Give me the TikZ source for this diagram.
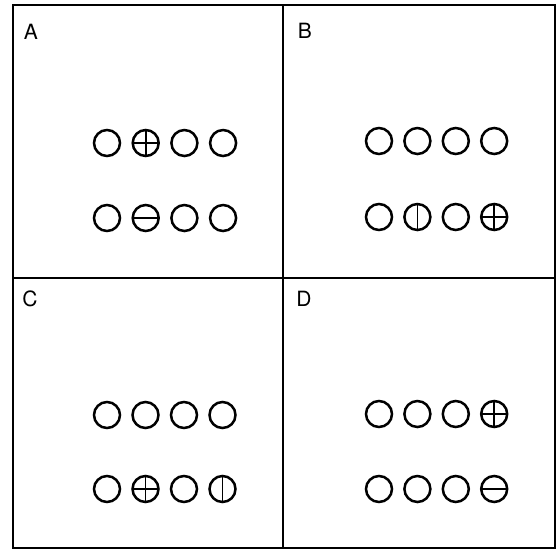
\documentclass[tikz,border=0pt]{standalone}
\usepackage{fontspec}
\setmainfont{TeX Gyre Heros}
\usepackage{tikz}

\begin{document}
\begin{tikzpicture}[
    x=1pt, y=-1pt,
    every node/.style={font=\fontsize{21}{21}\selectfont},
    frame/.style={draw, line width=2.2pt},
    tag/.style={inner sep=0pt},
    spot/.style={circle, draw, line width=2.5pt, minimum size=26pt, inner sep=0pt},
    crossed/.style={spot, path picture={\draw[line width=1.8pt]
        (path picture bounding box.north) -- (path picture bounding box.south)
        (path picture bounding box.west) -- (path picture bounding box.east);}},
    minus/.style={spot, path picture={\draw[line width=1.8pt]
        (path picture bounding box.west) -- (path picture bounding box.east);}},
    bar/.style={spot, path picture={\draw[line width=1.8pt]
        (path picture bounding box.north) -- (path picture bounding box.south);}}
]
\useasboundingbox (0,0) rectangle (558,550);

% panel frames
\draw[frame] (13,5) rectangle (555,548);
\draw[frame] (283,5) -- (283,548);
\draw[frame] (13,278) -- (555,278);

% panel letters
\node[tag] (la) at (31,32) {A};
\node[tag] (lb) at (305,31) {B};
\node[tag] (lc) at (30,299) {C};
\node[tag] (ld) at (304,299) {D};

% A
\foreach \s [count=\i] in {spot,crossed,spot,spot}
  \node[\s] (a1\i) at ({107+38.7*(\i-1)},143) {};
\foreach \s [count=\i] in {spot,minus,spot,spot}
  \node[\s] (a2\i) at ({107+38.7*(\i-1)},218) {};

% B
\foreach \s [count=\i] in {spot,spot,spot,spot}
  \node[\s] (b1\i) at ({379+38.4*(\i-1)},141) {};
\foreach \s [count=\i] in {spot,bar,spot,crossed}
  \node[\s] (b2\i) at ({379+38.4*(\i-1)},217) {};

% C
\foreach \s [count=\i] in {spot,spot,spot,spot}
  \node[\s] (c1\i) at ({107+38.5*(\i-1)},415) {};
\foreach \s [count=\i] in {spot,crossed,spot,bar}
  \node[\s] (c2\i) at ({107+38.5*(\i-1)},489) {};

% D
\foreach \s [count=\i] in {spot,spot,spot,crossed}
  \node[\s] (d1\i) at ({379+38.4*(\i-1)},414) {};
\foreach \s [count=\i] in {spot,spot,spot,minus}
  \node[\s] (d2\i) at ({379+38.4*(\i-1)},489) {};
\end{tikzpicture}
\end{document}
